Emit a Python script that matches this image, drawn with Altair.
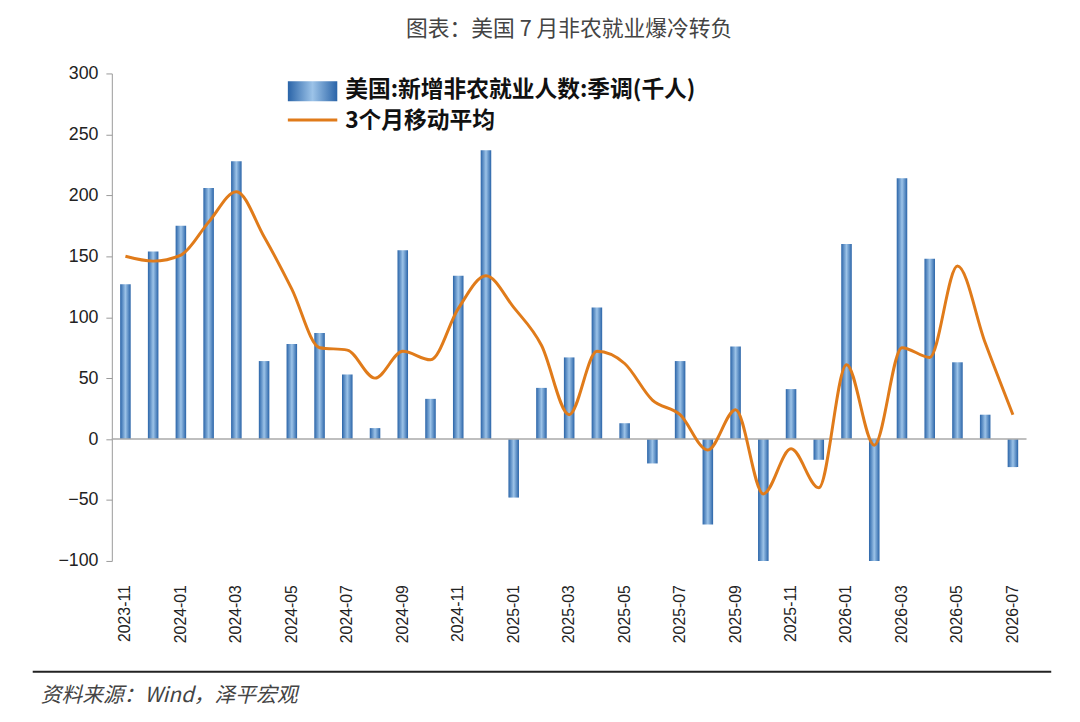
import altair as alt
import pandas as pd

months = ["2023-11", "2023-12", "2024-01", "2024-02", "2024-03", "2024-04", "2024-05",
          "2024-06", "2024-07", "2024-08", "2024-09", "2024-10", "2024-11", "2024-12",
          "2025-01", "2025-02", "2025-03", "2025-04", "2025-05", "2025-06", "2025-07",
          "2025-08", "2025-09", "2025-10", "2025-11", "2025-12", "2026-01", "2026-02",
          "2026-03", "2026-04", "2026-05", "2026-06", "2026-07"]
payrolls = [127, 154, 175, 206, 228, 64, 78, 87, 53, 9, 155, 33, 134, 237,
            -48, 42, 67, 108, 13, -20, 64, -70, 76, -110, 41, -17, 160, -110,
            214, 148, 63, 20, -23]
avg3 = [150, 146, 151, 178, 203, 166, 123, 75, 73, 50, 72, 65, 107, 134,
        108, 77, 20, 72, 62, 32, 20, -9, 24, -45, -8, -40, 61, -5,
        75, 67, 142, 79, 20]
tick_months = months[::2]

df = pd.DataFrame({"month": months, "payrolls": payrolls, "avg3": avg3})
font = "Noto Sans CJK SC"

blue_grad = alt.Gradient(gradient="linear", x1=0, x2=1, y1=0, y2=0,
                         stops=[alt.GradientStop(offset=0, color="#2a64a8"),
                                alt.GradientStop(offset=0.5, color="#9cc3e8"),
                                alt.GradientStop(offset=1, color="#2a64a8")])

x = alt.X("month:N", sort=months, scale=alt.Scale(paddingInner=0.62, paddingOuter=0.3),
          axis=alt.Axis(title=None, labelAngle=-90, values=tick_months, ticks=False,
                        labelFontSize=16, labelColor="#222", labelFont="Liberation Sans",
                        domain=False, labelPadding=24))
yscale = alt.Scale(domain=[-100, 300])
y_axis = alt.Axis(title=None, values=[-100, -50, 0, 50, 100, 150, 200, 250, 300],
                  grid=False, tickColor="#999", labelFontSize=18, labelColor="#222",
                  labelFont="Liberation Sans", domainColor="#999", tickSize=6, labelPadding=8)

base = alt.Chart(df)

bars = base.mark_bar(clip=True, color=blue_grad).encode(
    x=x, y=alt.Y("payrolls:Q", scale=yscale, axis=y_axis))

zero = alt.Chart(pd.DataFrame({"z": [0]})).mark_rule(color="#aaa", strokeWidth=1.5).encode(
    y=alt.Y("z:Q", scale=yscale))

line = base.mark_line(color="#e07b1a", strokeWidth=3, interpolate="monotone").encode(
    x=x, y=alt.Y("avg3:Q", scale=yscale))

leg_names = ["美国:新增非农就业人数:季调(千人)", "3个月移动平均"]
leg_box = alt.Chart(df.iloc[[0]]).mark_rect(color=blue_grad).encode(
    x=alt.value(178), x2=alt.value(228), y=alt.value(8), y2=alt.value(28))
leg_line = alt.Chart(df.iloc[[0]]).mark_rule(color="#e07b1a", strokeWidth=3).encode(
    x=alt.value(178), x2=alt.value(228), y=alt.value(47))
text_style = dict(align="left", baseline="middle", font=font, fontSize=23,
                  fontWeight="bold", color="#111")
leg_t1 = alt.Chart(df.iloc[[0]]).mark_text(text=leg_names[0], **text_style).encode(
    x=alt.value(236), y=alt.value(17))
leg_t2 = alt.Chart(df.iloc[[0]]).mark_text(text=leg_names[1], **text_style).encode(
    x=alt.value(236), y=alt.value(48))
bottom_rule = alt.Chart(df.iloc[[0]]).mark_rule(color="#222", strokeWidth=2).encode(
    x=alt.value(-80), x2=alt.value(950), y=alt.value(605))
source = alt.Chart(df.iloc[[0]]).mark_text(
    text="资料来源：Wind，泽平宏观", align="left", baseline="middle", font=font,
    fontSize=21, fontStyle="italic", color="#444").encode(
    x=alt.value(-72), y=alt.value(630))

chart = alt.layer(bars, zero, line, leg_box, leg_line, leg_t1, leg_t2, bottom_rule, source).properties(
    width=925, height=493,
    title=alt.TitleParams("图表：美国 7 月非农就业爆冷转负", font=font, fontSize=22,
                          fontWeight="normal", color="#444", anchor="middle", offset=24),
    padding={"left": 24, "top": 6, "right": 20, "bottom": 40}
).configure_view(stroke=None)

chart.save("out.html", embed_options={"renderer": "svg", "actions": False})
